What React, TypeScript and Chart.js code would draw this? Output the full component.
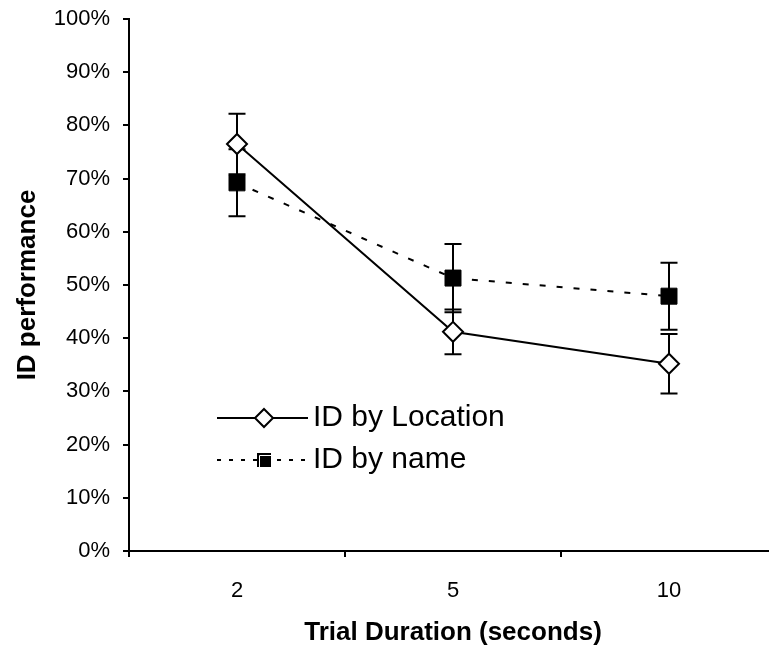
import React, { useEffect, useRef } from "react";
import { Chart, registerables } from "chart.js";

Chart.register(...registerables);

const categories = ["2", "5", "10"];
const locationLabel = "ID by Location";
const locationValues = [76.5, 41.2, 35.2];
const locationErrors = [5.7, 4.2, 5.6];
const nameLabel = "ID by name";
const nameValues = [69.2, 51.3, 47.9];
const nameErrors = [6.3, 6.4, 6.3];
const yMin = 0;
const yMax = 100;
const yStep = 10;

const FONT = '"Liberation Sans", Arial, sans-serif';

const errorBarPlugin = {
  id: "errorBars",
  beforeDatasetsDraw(chart: any) {
    const ctx = chart.ctx;
    const y = chart.scales.y;
    chart.data.datasets.forEach((ds: any, i: number) => {
      const meta = chart.getDatasetMeta(i);
      const errs: number[] = ds.errors || [];
      meta.data.forEach((pt: any, j: number) => {
        const v = ds.data[j];
        const e = errs[j];
        if (e == null) return;
        const top = y.getPixelForValue(v + e);
        const bot = y.getPixelForValue(v - e);
        const cap = 8.5;
        ctx.save();
        ctx.strokeStyle = "#000";
        ctx.lineWidth = 2;
        ctx.setLineDash([]);
        ctx.beginPath();
        ctx.moveTo(pt.x, top);
        ctx.lineTo(pt.x, bot);
        ctx.moveTo(pt.x - cap, top);
        ctx.lineTo(pt.x + cap, top);
        ctx.moveTo(pt.x - cap, bot);
        ctx.lineTo(pt.x + cap, bot);
        ctx.stroke();
        ctx.restore();
      });
    });
  },
};

const legendPlugin = {
  id: "insideLegend",
  afterDatasetsDraw(chart: any) {
    const ctx = chart.ctx;
    const ds = chart.data.datasets;
    const x0 = 217;
    const x1 = 308;
    const mx = 264;
    const tx = 313;
    const rows = [418, 460];
    ctx.save();
    ctx.strokeStyle = "#000";
    ctx.lineWidth = 2;
    ctx.setLineDash([]);
    ctx.beginPath();
    ctx.moveTo(x0, rows[0]);
    ctx.lineTo(x1, rows[0]);
    ctx.stroke();
    ctx.beginPath();
    const r = 9;
    ctx.moveTo(mx, rows[0] - r);
    ctx.lineTo(mx + r, rows[0]);
    ctx.lineTo(mx, rows[0] + r);
    ctx.lineTo(mx - r, rows[0]);
    ctx.closePath();
    ctx.fillStyle = "#fff";
    ctx.fill();
    ctx.stroke();
    ctx.setLineDash([4, 8]);
    ctx.beginPath();
    ctx.moveTo(x0, rows[1]);
    ctx.lineTo(x1, rows[1]);
    ctx.stroke();
    ctx.setLineDash([]);
    ctx.fillStyle = "#000";
    ctx.fillRect(mx - 7, rows[1] - 7, 14, 14);
    ctx.strokeStyle = "#fff";
    ctx.lineWidth = 1;
    ctx.beginPath();
    ctx.moveTo(mx - 4.5, rows[1] + 7);
    ctx.lineTo(mx - 4.5, rows[1] - 4.5);
    ctx.lineTo(mx + 7, rows[1] - 4.5);
    ctx.stroke();
    ctx.fillStyle = "#000";
    ctx.font = `30px ${FONT}`;
    ctx.textBaseline = "middle";
    ctx.textAlign = "left";
    ctx.fillText(ds[0].label, tx, rows[0]);
    ctx.fillText(ds[1].label, tx, rows[1]);
    ctx.restore();
  },
};

export default function App() {
  const ref = useRef<HTMLCanvasElement | null>(null);

  useEffect(() => {
    if (!ref.current) return;
    const chart = new Chart(ref.current, {
      type: "line",
      data: {
        labels: categories,
        datasets: [
          {
            label: locationLabel,
            data: locationValues,
            errors: locationErrors,
            borderColor: "#000",
            borderWidth: 2,
            tension: 0,
            fill: false,
            pointStyle: "rectRot",
            pointRadius: 10,
            pointHoverRadius: 10,
            pointBackgroundColor: "#fff",
            pointBorderColor: "#000",
            pointBorderWidth: 2,
          } as any,
          {
            label: nameLabel,
            data: nameValues,
            errors: nameErrors,
            borderColor: "#000",
            borderWidth: 2,
            borderDash: [6, 11],
            tension: 0,
            fill: false,
            pointStyle: "rect",
            pointRadius: 11.3,
            pointHoverRadius: 11.3,
            pointBackgroundColor: "#000",
            pointBorderColor: "#000",
            pointBorderWidth: 1,
          } as any,
        ],
      },
      options: {
        responsive: false,
        animation: false,
        devicePixelRatio: 1,
        layout: { padding: { top: 19, right: 13, bottom: 0, left: 0 } },
        plugins: {
          legend: { display: false },
          tooltip: { enabled: false },
        },
        scales: {
          x: {
            type: "category",
            offset: true,
            grid: {
              offset: true,
              drawOnChartArea: false,
              drawTicks: true,
              tickLength: 6,
              color: "#000",
              lineWidth: 2,
            },
            border: { color: "#000", width: 2 },
            ticks: {
              color: "#000",
              font: { family: FONT, size: 22 },
              padding: 21,
              maxRotation: 0,
            },
            title: {
              display: true,
              text: "Trial Duration (seconds)",
              color: "#000",
              font: { family: FONT, size: 26, weight: "bold" },
              padding: { top: 0, bottom: 0 },
            },
            afterFit: (scale: any) => {
              scale.height = 97;
              scale.paddingLeft = 0;
              scale.paddingRight = 0;
            },
          },
          y: {
            min: yMin,
            max: yMax,
            grid: {
              drawOnChartArea: false,
              drawTicks: true,
              tickLength: 6,
              color: "#000",
              lineWidth: 2,
            },
            border: { color: "#000", width: 2 },
            ticks: {
              stepSize: yStep,
              color: "#000",
              font: { family: FONT, size: 22 },
              padding: 13,
              callback: (v: any) => `${v}%`,
            },
            title: {
              display: true,
              text: "ID performance",
              color: "#000",
              font: { family: FONT, size: 26, weight: "bold" },
              padding: { top: 12, bottom: 0 },
            },
            afterFit: (scale: any) => {
              scale.width = 129;
              scale.paddingTop = 0;
              scale.paddingBottom = 0;
            },
          },
        },
      } as any,
      plugins: [errorBarPlugin, legendPlugin],
    });
    return () => chart.destroy();
  }, []);

  return (
    <div
      style={{
        position: "fixed",
        left: 0,
        top: 0,
        width: 769,
        height: 648,
        overflow: "hidden",
        background: "#fff",
      }}
    >
      <canvas
        ref={ref}
        width={790}
        height={648}
        style={{ display: "block", width: 790, height: 648 }}
      />
    </div>
  );
}
